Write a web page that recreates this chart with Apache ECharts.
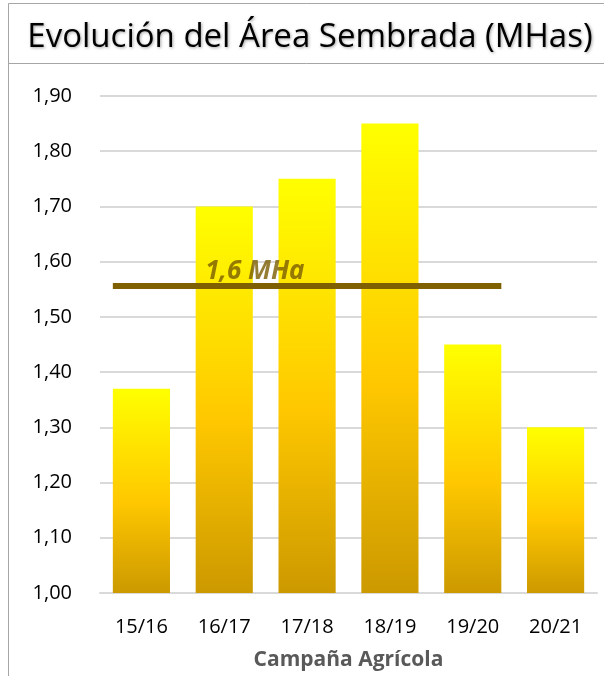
<!DOCTYPE html>
<html>
<head>
<meta charset="utf-8">
<script src="https://cdn.jsdelivr.net/npm/echarts@6/dist/echarts.min.js"></script>
<style>
  html, body { margin: 0; padding: 0; background: #fff; }
  #chart { width: 604px; height: 676px; }
</style>
</head>
<body>
<div id="chart"></div>
<script>
const campanas = ['15/16', '16/17', '17/18', '18/19', '19/20', '20/21'];
const area = [1.37, 1.70, 1.75, 1.85, 1.45, 1.30];
const promedio = 1.556;
const promedioLabel = '1,6 MHa';
// line spans from left edge of first bar to right edge of 19/20 (category units)
const promedioX = [-0.345, 4.345];
const labelX = 1.37;
const yMin = 1.0, yMax = 1.9, yStep = 0.1;

const fmt = v => v.toFixed(2).replace('.', ',');
const font = '"Open Sans", "Noto Sans", sans-serif';

const chart = echarts.init(document.getElementById('chart'));
chart.setOption({
  animation: false,
  graphic: [
    { type: 'rect', shape: { x: 8.5, y: 3.5, width: 620, height: 60 },
      style: { fill: 'none', stroke: '#a6a6a6', lineWidth: 1 } },
    { type: 'line', shape: { x1: 8.5, y1: 63, x2: 8.5, y2: 680 },
      style: { stroke: '#a6a6a6', lineWidth: 1 } }
  ],
  title: {
    text: 'Evolución del Área Sembrada (MHas)',
    left: 305, top: 16, textAlign: 'center',
    textStyle: { fontFamily: font, fontSize: 33, fontWeight: 'normal', color: '#000',
      textShadowColor: 'rgba(0,0,0,0.35)', textShadowBlur: 3, textShadowOffsetX: 1, textShadowOffsetY: 1 }
  },
  grid: { left: 100, right: 7, top: 96, bottom: 83 },
  xAxis: [{
    type: 'category',
    data: campanas,
    axisLine: { lineStyle: { color: '#d9d9d9', width: 2 } },
    axisTick: { show: false },
    axisLabel: { fontFamily: font, fontSize: 20, color: '#000', margin: 24 },
    name: 'Campaña Agrícola',
    nameLocation: 'middle',
    nameGap: 57,
    nameTextStyle: { fontFamily: font, fontSize: 21, fontWeight: 'bold', color: '#595959' }
  }, {
    type: 'value', min: -0.5, max: 5.5, show: false
  }],
  yAxis: {
    type: 'value',
    min: yMin, max: yMax, interval: yStep,
    axisLine: { show: false },
    axisTick: { show: false },
    splitLine: { lineStyle: { color: '#d9d9d9', width: 2 } },
    axisLabel: { fontFamily: font, fontSize: 20, color: '#000', margin: 28, formatter: fmt }
  },
  series: [{
    type: 'bar',
    data: area,
    barWidth: '69%',
    itemStyle: {
      color: new echarts.graphic.LinearGradient(0, 0, 0, 1, [
        { offset: 0, color: '#ffff00' },
        { offset: 0.55, color: '#ffc800' },
        { offset: 1, color: '#cc9900' }
      ])
    }
  }, {
    type: 'line',
    xAxisIndex: 1,
    data: promedioX.map(x => [x, promedio]),
    symbol: 'none',
    lineStyle: { color: '#7f6000', width: 6 },
    z: 5
  }, {
    type: 'scatter',
    xAxisIndex: 1,
    data: [[labelX, promedio]],
    symbolSize: 0,
    label: {
      show: true, position: 'top', distance: 1,
      formatter: promedioLabel,
      fontFamily: font, fontSize: 26, fontWeight: 'bold', fontStyle: 'italic', color: '#7a5c00'
    },
    z: 6
  }]
});
</script>
</body>
</html>
